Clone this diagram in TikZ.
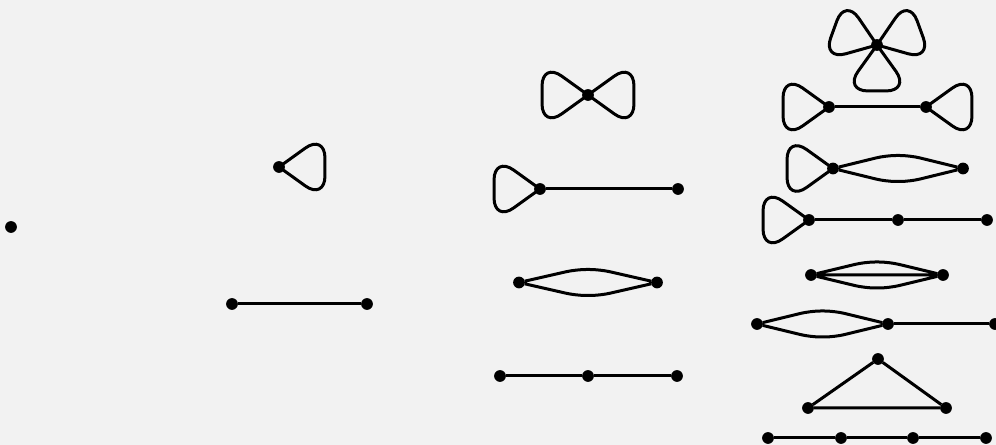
\documentclass[tikz,border=0pt]{standalone}
\usepackage{tikz}
\usetikzlibrary{calc}
\definecolor{bgray}{HTML}{F2F2F2}

% loop on a vertex: #1 node, #2 direction
\newcommand{\petal}[2]{\draw[rounded corners=18pt] (#1.center) -- +(#2+35.7:56.6) -- +(#2-35.7:56.6) -- (#1.center);}

\begin{document}
\begin{tikzpicture}[x=0.75pt,y=0.75pt,line width=2.25pt,
  vtx/.style={circle,fill=black,inner sep=0pt,outer sep=0pt,minimum size=8.8pt},
  bulge/.style={to path={[rounded corners=7.5pt] -- ($(\tikztostart)!0.5!(\tikztotarget)+(-12,#1)$) -- ($(\tikztostart)!0.5!(\tikztotarget)+(12,#1)$) -- (\tikztotarget)}}]
  \fill[bgray] (0,0) rectangle (996,445);
  \useasboundingbox (0,0) rectangle (996,445);

  % one and two edges
  \node[vtx] (s) at (11,218) {};
  \node[vtx] (l) at (279,278) {};
  \petal{l}{0}
  \node[vtx] (e1) at (232,141) {};
  \node[vtx] (e2) at (367,141) {};
  \draw (e1)--(e2);

  \node[vtx] (f) at (588,350) {};
  \petal{f}{0} \petal{f}{180}
  \node[vtx] (le1) at (540,256) {};
  \node[vtx] (le2) at (678,256) {};
  \petal{le1}{180} \draw (le1)--(le2);
  \node[vtx] (d1) at (519,162.5) {};
  \node[vtx] (d2) at (657,162.5) {};
  \draw (d1) to[bulge=13] (d2) (d1) to[bulge=-13] (d2);
  \node[vtx] (p1) at (500,69) {};
  \node[vtx] (p2) at (588,69) {};
  \node[vtx] (p3) at (677,69) {};
  \draw (p1)--(p2)--(p3);

  % three edges
  \node[vtx] (t) at (877,400) {};
  \petal{t}{20} \petal{t}{160} \petal{t}{270}
  \node[vtx] (b1) at (829,338) {};
  \node[vtx] (b2) at (926,338) {};
  \petal{b1}{180} \petal{b2}{0} \draw (b1)--(b2);
  \node[vtx] (c1) at (833,276.5) {};
  \node[vtx] (c2) at (963,276.5) {};
  \petal{c1}{180}
  \draw (c1) to[bulge=13] (c2) (c1) to[bulge=-13] (c2);
  \node[vtx] (q1) at (809,225) {};
  \node[vtx] (q2) at (898,225) {};
  \node[vtx] (q3) at (987,225) {};
  \petal{q1}{180} \draw (q1)--(q2)--(q3);
  \node[vtx] (m1) at (811,170) {};
  \node[vtx] (m2) at (943,170) {};
  \draw (m1)--(m2) (m1) to[bulge=13] (m2) (m1) to[bulge=-13] (m2);
  \node[vtx] (r1) at (757,121) {};
  \node[vtx] (r2) at (888,121) {};
  \node[vtx] (r3) at (995,121) {};
  \draw (r1) to[bulge=13] (r2) (r1) to[bulge=-13] (r2);
  \draw (r2)--(r3);
  \node[vtx] (k1) at (878,86) {};
  \node[vtx] (k2) at (808,37) {};
  \node[vtx] (k3) at (946,37) {};
  \draw (k1)--(k2)--(k3)--(k1);
  \foreach \i/\x in {1/768,2/841,3/913,4/986}{\node[vtx] (w\i) at (\x,7) {};}
  \draw (w1)--(w2)--(w3)--(w4);
\end{tikzpicture}
\end{document}
